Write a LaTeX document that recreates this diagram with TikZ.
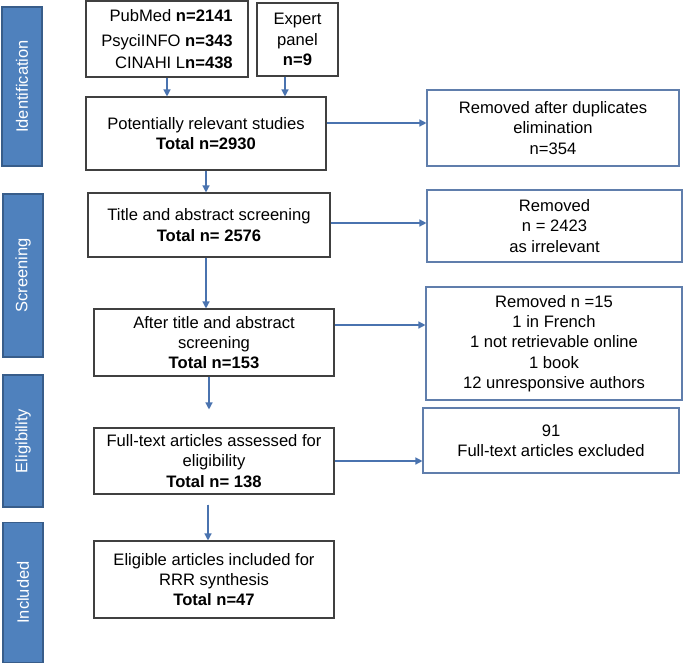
\documentclass[tikz,border=0pt]{standalone}
\usepackage{fontspec}
\setmainfont{Liberation Sans}
\usepackage{xcolor}
\usetikzlibrary{positioning}
\usetikzlibrary{arrows.meta}
\definecolor{barfill}{RGB}{79,129,189}
\definecolor{barline}{RGB}{56,93,138}
\definecolor{leftline}{RGB}{64,64,64}
\definecolor{rightline}{RGB}{96,126,172}
\definecolor{arrowblue}{RGB}{74,115,175}

\begin{document}
\begin{tikzpicture}[x=1pt,y=-1pt,
		stage/.style={
			draw=barline,
			fill=barfill,
			line width=1.5pt,
			rotate=90,
			text=white,
			inner sep=0pt,
			font=\fontsize{16.5}{20}\selectfont,
		},
		flowbox/.style={
			draw=leftline,
			line width=1.1pt,
			align=center,
			inner sep=0pt,
			font=\fontsize{16.6}{20.3}\selectfont,
		},
		sidebox/.style={
			flowbox,
			draw=rightline,
		},
		arr/.style={-{Triangle[length=7pt,width=7pt]}, draw=arrowblue, fill=arrowblue, line width=1.3pt},
	]
	\useasboundingbox (0,0) rectangle (685,664);
	
	% stages
	\node[stage, minimum width=159pt, minimum height=40pt] (ident) at (22,86.5) {Identification};
	\node[stage, minimum width=163pt, minimum height=40pt] (screen) at (23,275.5) {Screening};
	\node[stage, minimum width=132pt, minimum height=40pt] (elig) at (23,441) {Eligibility};
	\node[stage, minimum width=140pt, minimum height=40pt] (incl) at (23,592.5) {Included};
	
	% main column
	\node[flowbox, align=right, minimum width=162pt, minimum height=76pt] (pubmed) at (167,39) {PubMed \textbf{n=2141}\\[5pt] PsyciINFO \textbf{n=343}\\[1pt] CINAHI L\textbf{n=438}};
	\node[flowbox, minimum width=81pt, minimum height=73pt] (expert) at (297.5,39.5) {Expert\\ panel\\ \textbf{n=9}};
	\node[flowbox, minimum width=240pt, minimum height=73pt] (potential) at (206,133.5) {Potentially relevant studies\\ \textbf{Total n=2930}};
	\node[flowbox, minimum width=242pt, minimum height=64pt] (titleabs) at (209,225) {Title and abstract screening\\ \textbf{Total n= 2576}};
	\node[flowbox, minimum width=240pt, minimum height=67pt] (after) at (214,342.5) {After title and abstract\\ screening\\ \textbf{Total n=153}};
	\node[flowbox, minimum width=240pt, minimum height=66pt] (fulltext) at (214,461) {Full-text  articles assessed for\\ eligibility\\ \textbf{Total n= 138}};
	\node[flowbox, minimum width=240pt, minimum height=77pt] (eligible) at (214,579.5) {Eligible articles included for\\ RRR synthesis\\ \textbf{Total n=47}};
	
	% removed
	\node[sidebox, minimum width=252pt, minimum height=76pt] (dup) at (553,128) {Removed after duplicates\\ elimination\\ n=354};
	\node[sidebox, minimum width=255pt, minimum height=72pt] (irrel) at (554.5,226) {Removed\\ n = 2423\\ as irrelevant};
	\node[sidebox, minimum width=256pt, minimum height=113pt] (rem) at (554,343.5) {Removed n =15\\ 1 in French\\ 1 not retrievable online\\ 1 book\\ 12 unresponsive  authors};
	\node[sidebox, minimum width=256pt, minimum height=65pt] (excl) at (551,440.5) {91\\ Full-text  articles excluded};
	
	\draw[arr] (pubmed.south) -- (pubmed.south |- potential.north);
	\draw[arr] ([xshift=-12.5pt]expert.south) -- ([xshift=-12.5pt]expert.south |- potential.north);
	\draw[arr] (potential.south) -- (potential.south |- titleabs.north);
	\draw[arr] (potential.south |- titleabs.south) -- (potential.south |- after.north);
	\draw[arr, shorten >=18pt] ([xshift=-5pt]after.south) -- ([xshift=-5pt]after.south |- fulltext.north);
	\draw[arr, shorten <=10pt] ([xshift=-6pt]fulltext.south) -- ([xshift=-6pt]fulltext.south |- eligible.north);
	
	\draw[arr] ([yshift=10.5pt]potential.east) -- ([yshift=10.5pt]potential.east -| dup.west);
	\draw[arr] ([yshift=2pt]titleabs.east) -- ([yshift=2pt]titleabs.east -| irrel.west);
	\draw[arr] ([yshift=17.5pt]after.east) -- ([yshift=17.5pt]after.east -| rem.west);
	\draw[arr] (fulltext.east) -- (fulltext.east -| excl.west);
\end{tikzpicture}
\end{document}
